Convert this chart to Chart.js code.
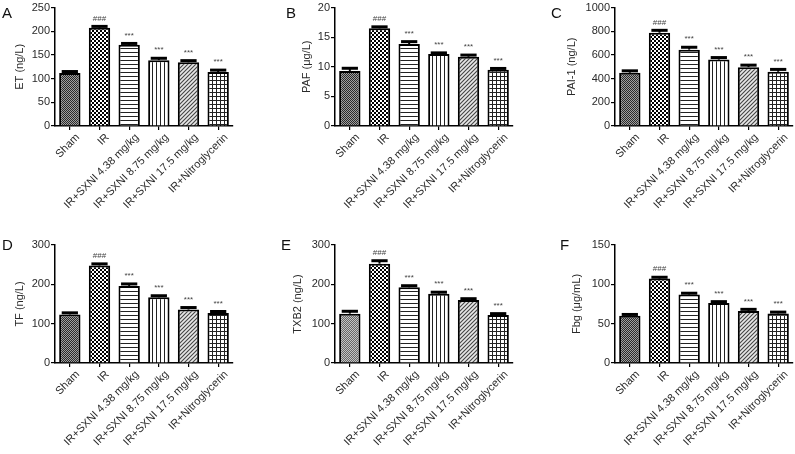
<!DOCTYPE html>
<html>
<head>
<meta charset="utf-8">
<script src="https://cdn.jsdelivr.net/npm/chart.js@4.4.1/dist/chart.umd.min.js"></script>
<style>
  html, body { margin: 0; padding: 0; background: #fff; }
  #wrap { position: relative; width: 795px; height: 454px; overflow: hidden; font-family: "Liberation Sans", Arial, Helvetica, sans-serif; }
  canvas { position: absolute; }
  .letter { position: absolute; font-size: 15px; line-height: 15px; color: #111; }
</style>
</head>
<body>
<div id="wrap">
  <canvas id="cA" width="236" height="227" style="left:0px;top:0px"></canvas>
  <canvas id="cB" width="236" height="227" style="left:280px;top:0px"></canvas>
  <canvas id="cC" width="236" height="227" style="left:560px;top:0px"></canvas>
  <canvas id="cD" width="236" height="227" style="left:0px;top:227px"></canvas>
  <canvas id="cE" width="236" height="227" style="left:280px;top:227px"></canvas>
  <canvas id="cF" width="236" height="227" style="left:560px;top:227px"></canvas>
  <div class="letter" style="left:2px;top:5px">A</div>
  <div class="letter" style="left:286px;top:5px">B</div>
  <div class="letter" style="left:551px;top:5px">C</div>
  <div class="letter" style="left:2px;top:237px">D</div>
  <div class="letter" style="left:281px;top:237px">E</div>
  <div class="letter" style="left:560px;top:237px">F</div>
</div>
<script>
// groups and significance marks shared by all panels
const categories = ['Sham', 'IR', 'IR+SXNI 4.38 mg/kg', 'IR+SXNI 8.75 mg/kg', 'IR+SXNI 17.5 mg/kg', 'IR+Nitroglycerin'];
const marks = ['', '###', '***', '***', '***', '***'];

// values (mean, SEM)
const etValues   = [112, 207.5, 171.5, 139, 134.5, 114];
const etErrors   = [3, 2.8, 2.8, 4, 3.5, 4];
const pafValues  = [9.3, 16.5, 13.85, 12.15, 11.7, 9.5];
const pafErrors  = [0.45, 0.25, 0.4, 0.2, 0.28, 0.22];
const paiValues  = [450, 788, 645, 561, 497, 458];
const paiErrors  = [16, 20, 20, 17, 17, 20];
const tfValues   = [123.5, 248, 196, 167, 136, 127];
const tfErrors   = [4, 4, 5, 4, 5, 4];
const txbValues  = [125.5, 252.5, 192.5, 176, 160, 122];
const txbErrors  = [6, 7.5, 4, 4, 3.5, 3.5];
const fbgValues  = [60, 107.3, 87, 76.3, 66.2, 63];
const fbgErrors  = [1.7, 1.7, 1.7, 1.7, 2, 1.7];

const FONT = '"Liberation Sans", Arial, Helvetica, sans-serif';

function pattern(size, draw) {
  const c = document.createElement('canvas');
  c.width = c.height = size;
  const g = c.getContext('2d');
  draw(g, size);
  return g.createPattern(c, 'repeat');
}

function shamPattern(light) {
  return pattern(2, (g) => {
    g.fillStyle = light ? '#c4c4c4' : '#a0a0a0'; g.fillRect(0, 0, 2, 2);
    g.fillStyle = light ? '#666' : '#2a2a2a'; g.fillRect(0, 0, 1, 1); g.fillRect(1, 1, 1, 1);
  });
}
const irPattern = pattern(4, (g) => {
  g.fillStyle = '#000'; g.fillRect(0, 0, 4, 4);
  g.fillStyle = '#fff'; g.fillRect(0, 0, 2, 2); g.fillRect(2, 2, 2, 2);
});
const hLines = pattern(4, (g) => {
  g.fillStyle = '#fff'; g.fillRect(0, 0, 4, 4);
  g.fillStyle = '#222'; g.fillRect(0, 0, 4, 1);
});
const vLines = pattern(4, (g) => {
  g.fillStyle = '#fff'; g.fillRect(0, 0, 4, 4);
  g.fillStyle = '#222'; g.fillRect(0, 0, 1, 4);
});
const diagLines = pattern(4, (g) => {
  g.fillStyle = '#e8e8e8'; g.fillRect(0, 0, 4, 4);
  g.strokeStyle = '#444'; g.lineWidth = 1.1;
  g.beginPath(); g.moveTo(-1, 5); g.lineTo(5, -1); g.stroke();
  g.beginPath(); g.moveTo(-1, 1); g.lineTo(1, -1); g.stroke();
  g.beginPath(); g.moveTo(3, 5); g.lineTo(5, 3); g.stroke();
});
const gridPattern = pattern(4, (g) => {
  g.fillStyle = '#fff'; g.fillRect(0, 0, 4, 4);
  g.fillStyle = '#222'; g.fillRect(0, 0, 4, 1); g.fillRect(0, 0, 1, 4);
});

// error bars plus ### / *** above each bar
const errorBarPlugin = {
  id: 'errorBars',
  afterDatasetsDraw(chart) {
    const errs = chart.options.plugins.errorBars.errors;
    const ys = chart.scales.y;
    const meta = chart.getDatasetMeta(0);
    const ctx = chart.ctx;
    ctx.save();
    meta.data.forEach((bar, i) => {
      const v = chart.data.datasets[0].data[i];
      const yTop = ys.getPixelForValue(v + errs[i]);
      const half = bar.width * 0.38;
      ctx.strokeStyle = '#000';
      ctx.lineWidth = 2;
      ctx.beginPath(); ctx.moveTo(bar.x, bar.y); ctx.lineTo(bar.x, yTop); ctx.stroke();
      ctx.lineWidth = 3;
      ctx.beginPath(); ctx.moveTo(bar.x - half, yTop); ctx.lineTo(bar.x + half, yTop); ctx.stroke();
      if (marks[i]) {
        ctx.fillStyle = '#444';
        ctx.font = '8px ' + FONT;
        ctx.textAlign = 'center';
        ctx.textBaseline = 'bottom';
        ctx.fillText(marks[i], bar.x, yTop - 4);
      }
    });
    ctx.restore();
  }
};

function makePanel(id, values, errors, yTitle, yMax, yStep, row, titleX, lightSham) {
  const areaTop = row === 0 ? 7 : 18;
  const areaBottom = row === 0 ? 126 : 136;
  new Chart(document.getElementById(id), {
    type: 'bar',
    data: {
      labels: categories,
      datasets: [{
        data: values,
        backgroundColor: [shamPattern(lightSham), irPattern, hLines, vLines, diagLines, gridPattern],
        borderColor: '#000',
        borderWidth: 2,
        borderSkipped: 'bottom',
        barPercentage: 0.72,
        categoryPercentage: 1
      }]
    },
    options: {
      responsive: false,
      devicePixelRatio: 1,
      animation: false,
      layout: { padding: { left: 0, right: 3, top: areaTop, bottom: 0 } },
      plugins: {
        legend: { display: false },
        tooltip: { enabled: false },
        errorBars: { errors: errors }
      },
      scales: {
        x: {
          grid: { display: true, drawOnChartArea: false, offset: false, color: '#000', lineWidth: 1.2, tickLength: 4 },
          border: { color: '#000', width: 1.5 },
          ticks: { color: '#2a2a2a', font: { family: FONT, size: 11 }, minRotation: 45, maxRotation: 45, autoSkip: false, padding: 1, labelOffset: 8 },
          afterFit: (s) => { s.height = 227 - areaBottom; }
        },
        y: {
          min: 0, max: yMax,
          grid: { display: true, drawOnChartArea: false, color: '#000', lineWidth: 1.2, tickLength: 4 },
          border: { color: '#000', width: 1.5 },
          ticks: { stepSize: yStep, color: '#2a2a2a', font: { family: FONT, size: 11 }, padding: 1, callback: (v) => String(v) },
          title: { display: true, text: yTitle, color: '#2a2a2a', font: { family: FONT, size: 11 }, padding: { top: titleX - 6.6, bottom: 0 } },
          afterFit: (s) => { s.width = 55; }
        }
      }
    },
    plugins: [errorBarPlugin]
  });
}

makePanel('cA', etValues, etErrors, 'ET (ng/L)', 250, 50, 0, 20, false);
makePanel('cB', pafValues, pafErrors, 'PAF (\u03bcg/L)', 20, 5, 0, 27, false);
makePanel('cC', paiValues, paiErrors, 'PAI-1 (ng/L)', 1000, 200, 0, 12, false);
makePanel('cD', tfValues, tfErrors, 'TF (ng/L)', 300, 100, 1, 20, false);
makePanel('cE', txbValues, txbErrors, 'TXB2 (ng/L)', 300, 100, 1, 18, true);
makePanel('cF', fbgValues, fbgErrors, 'Fbg (\u03bcg/mL)', 150, 50, 1, 17, false);
</script>
</body>
</html>
